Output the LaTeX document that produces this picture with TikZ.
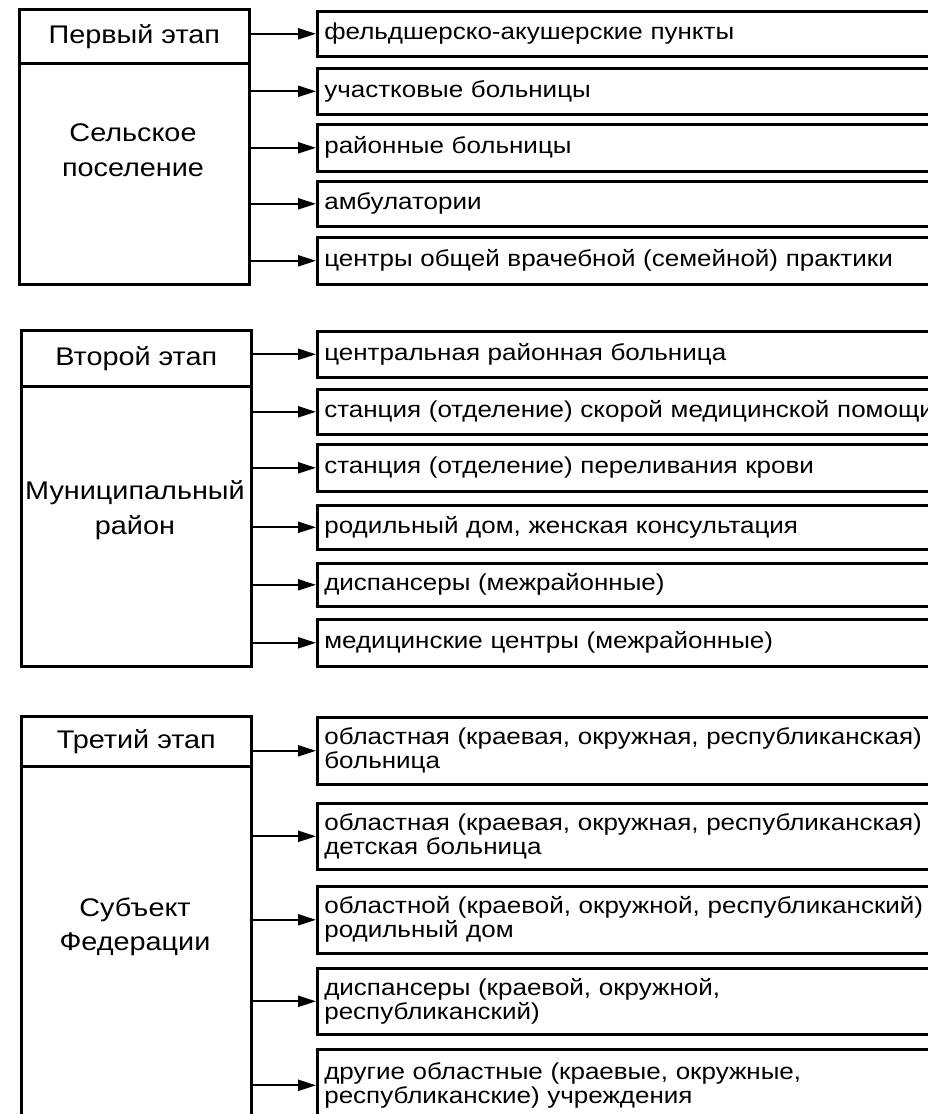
\documentclass[tikz,border=0pt]{standalone}
\usepackage{fontspec}
\setmainfont{Liberation Sans}[FakeStretch=1.13]
\usetikzlibrary{arrows.meta}
\begin{document}
\begin{tikzpicture}[x=1pt,y=-1pt,
  box/.style={draw, line width=2.6pt, rectangle, inner sep=0pt},
  lhead/.style={box, minimum width=230pt, anchor=north west, font=\fontsize{25.5}{28}\selectfont},
  lbody/.style={box, minimum width=230pt, anchor=north west},
  ltext/.style={align=center, font=\fontsize{25.5}{34.5}\selectfont},
  rbox/.style={box, anchor=north west, text width=680pt, inner xsep=7pt, inner ysep=0pt, align=left, font=\fontsize{23}{24}\selectfont},
  arr/.style={line width=2.2pt, -{Triangle[length=18pt,width=11pt]}}
]
\useasboundingbox (0,0) rectangle (928,1114);
\clip (0,0) rectangle (928,1114);
\fill[white] (0,0) rectangle (928,1114);

% Section 1
\node[lhead, minimum height=54pt] (h1) at (18,8) {Первый этап};
\node[lbody, minimum height=221pt] (b1) at (18,62) {};
\node[ltext] (t1) at (133,150) {Сельское\\поселение};
\node[rbox, minimum height=45pt] (r11) at (316,10) {фельдшерско-акушерские пункты};
\node[rbox, minimum height=46pt] (r12) at (316,67) {участковые больницы};
\node[rbox, minimum height=47pt] (r13) at (316,123) {районные больницы};
\node[rbox, minimum height=45pt] (r14) at (316,180) {амбулатории};
\node[rbox, minimum height=47pt] (r15) at (316,236) {центры общей врачебной (семейной) практики};
\foreach \r in {r11,r12,r13,r14,r15} \draw[arr] (\r.west -| b1.east) -- (\r.west);

% Section 2
\node[lhead, minimum height=56pt] (h2) at (20,329) {Второй этап};
\node[lbody, minimum height=280pt] (b2) at (20,385) {};
\node[ltext] (t2) at (135,510) {Муниципальный\\район};
\node[rbox, minimum height=46pt] (r21) at (316,330) {центральная районная больница};
\node[rbox, minimum height=45pt] (r22) at (316,388) {станция (отделение) скорой медицинской помощи};
\node[rbox, minimum height=47pt] (r23) at (316,443) {станция (отделение) переливания крови};
\node[rbox, minimum height=44pt] (r24) at (316,504) {родильный дом, женская консультация};
\node[rbox, minimum height=43pt] (r25) at (316,562) {диспансеры (межрайонные)};
\node[rbox, minimum height=47pt] (r26) at (316,618) {медицинские центры (межрайонные)};
\foreach \r in {r21,r22,r23,r24,r25,r26} \draw[arr] (\r.west -| b2.east) -- (\r.west);

% Section 3
\node[lhead, minimum height=50pt] (h3) at (20,715) {Третий этап};
\node[lbody, minimum height=400pt] (b3) at (20,765) {};
\node[ltext] (t3) at (135,927) {Субъект\\Федерации};
\node[rbox, minimum height=67pt] (r31) at (316,716) {областная (краевая, окружная, республиканская)\\больница};
\node[rbox, minimum height=66pt] (r32) at (316,802) {областная (краевая, окружная, республиканская)\\детская больница};
\node[rbox, minimum height=67pt] (r33) at (316,885) {областной (краевой, окружной, республиканский)\\родильный дом};
\node[rbox, minimum height=66pt] (r34) at (316,967) {диспансеры (краевой, окружной,\\республиканский)};
\node[rbox, minimum height=72pt] (r35) at (316,1048) {другие областные (краевые, окружные,\\республиканские) учреждения};
\foreach \r in {r31,r32,r33,r34,r35} \draw[arr] (\r.west -| b3.east) -- (\r.west);
\end{tikzpicture}
\end{document}
